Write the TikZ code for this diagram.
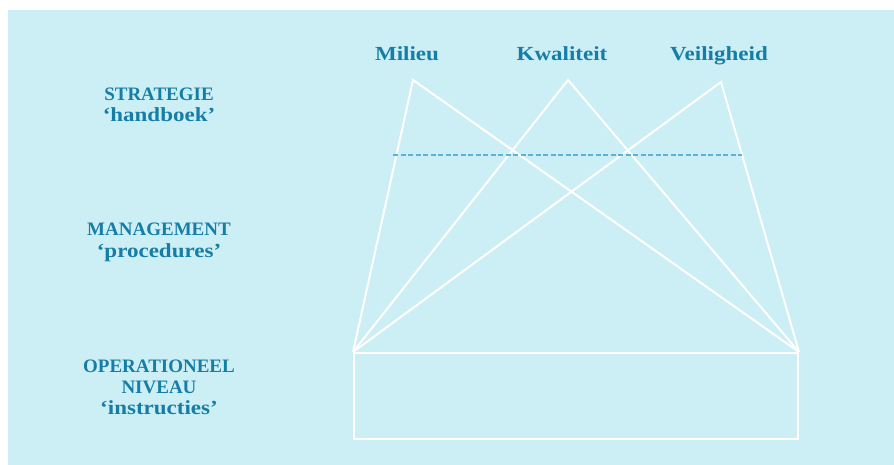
\documentclass[tikz,border=0pt]{standalone}
\usepackage{fontspec}
\setmainfont{Liberation Serif}
\newfontfamily\lowfont[FakeStretch=1.15]{Liberation Serif}
\definecolor{bgcyan}{RGB}{204,238,245}
\definecolor{labelblue}{RGB}{22,126,166}
\definecolor{dashblue}{RGB}{92,178,216}
\newcommand{\lw}[1]{{\lowfont\fontsize{20}{21}\selectfont\bfseries #1}}
\begin{document}
\begin{tikzpicture}[x=1pt,y=-1pt,
  lbl/.style={text=labelblue,font=\fontsize{19}{21}\selectfont\bfseries,align=center,inner sep=0pt,anchor=base},
  wline/.style={draw=white,line width=2pt,line join=miter},
  dline/.style={draw=dashblue,line width=1.8pt,dash pattern=on 5pt off 2.5pt}]
\useasboundingbox (0,0) rectangle (894,465);
\fill[white] (0,0) rectangle (894,465);
\fill[bgcyan] (8,10) rectangle (894,465);
% peaks
\coordinate (pm) at (413,80);
\coordinate (pk) at (568,80);
\coordinate (pv) at (721,82);
% base block
\node[wline,minimum width=444pt,minimum height=86pt,inner sep=0pt,anchor=north west] (base) at (353,352) {};
\draw[wline] (base.north west) -- (pm) -- (base.north east);
\draw[wline] (base.north west) -- (pk) -- (base.north east);
\draw[wline] (base.north west) -- (pv) -- (base.north east);
% dashed level line
\coordinate (dl) at (393,155);
\coordinate (dr) at (742,155);
\draw[dline] (dl) -- (dr);
% top labels
\node[lbl] (milieu) at (407,61) {\lw{Milieu}};
\node[lbl] (kwal) at (562,61) {\lw{Kwaliteit}};
\node[lbl] (veil) at (719,61) {\lw{Veiligheid}};
% left labels
\node[lbl] (strat) at (159,122) {STRATEGIE\\\lw{\textquoteleft handboek\textquoteright}};
\node[lbl] (mgmt) at (159,257) {MANAGEMENT\\\lw{\textquoteleft procedures\textquoteright}};
\node[lbl] (oper) at (159,414) {OPERATIONEEL\\NIVEAU\\\lw{\textquoteleft instructies\textquoteright}};
\end{tikzpicture}
\end{document}
